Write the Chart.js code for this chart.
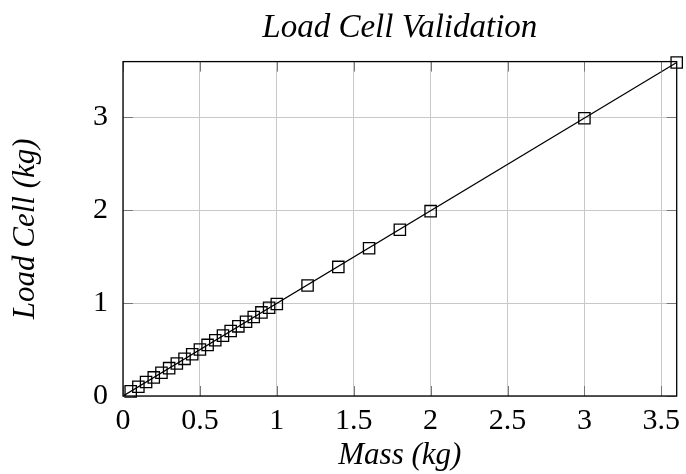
<!DOCTYPE html>
<html lang="en">
<head>
    <meta charset="UTF-8">
    <title>Load Cell Validation</title>
    <style>
        html, body { margin: 0; padding: 0; background: white; }
    </style>
</head>
<body>
    <canvas id="myChart" width="686" height="474"></canvas>

    <script src="https://cdn.jsdelivr.net/npm/chart.js"></script>
    <script>
        // measured points
        var massKg = [0.05, 0.10, 0.15, 0.20, 0.25, 0.30, 0.35, 0.40, 0.45, 0.50,
                      0.55, 0.60, 0.65, 0.70, 0.75, 0.80, 0.85, 0.90, 0.95, 1.00,
                      1.20, 1.40, 1.60, 1.80, 2.00, 3.00, 3.60]
        var cellKg = [0.05, 0.10, 0.15, 0.20, 0.25, 0.30, 0.35, 0.40, 0.45, 0.50,
                      0.55, 0.60, 0.65, 0.70, 0.75, 0.80, 0.85, 0.90, 0.95, 0.99,
                      1.19, 1.39, 1.59, 1.79, 1.99, 2.99, 3.59]
        // fitted line
        var fitX = [0, 3.6]
        var fitY = [0, 3.59]

        var xTicks = [0, 0.5, 1, 1.5, 2, 2.5, 3, 3.5]
        var yTicks = [0, 1, 2, 3]

        var serif = 'Liberation Serif'

        var pts = massKg.map((m, i) => ({ x: m, y: cellKg[i] }))
        var fit = fitX.map((m, i) => ({ x: m, y: fitY[i] }))

        // box round the plot area + short inward ticks, title centred over the plot
        const frame = {
            id: 'frame',
            afterLayout(chart) {
                if (chart.titleBlock) {
                    chart.titleBlock.left = chart.chartArea.left
                    chart.titleBlock.right = chart.chartArea.right
                }
            },
            afterDatasetsDraw(chart) {
                const a = chart.chartArea
                const c = chart.ctx
                const sx = chart.scales.x, sy = chart.scales.y
                c.save()
                c.strokeStyle = '#777'
                c.lineWidth = 1
                c.beginPath()
                sx.ticks.forEach(t => {
                    const px = Math.round(sx.getPixelForValue(t.value)) + 0.5
                    c.moveTo(px, a.bottom); c.lineTo(px, a.bottom - 10)
                    c.moveTo(px, a.top); c.lineTo(px, a.top + 10)
                })
                sy.ticks.forEach(t => {
                    const py = Math.round(sy.getPixelForValue(t.value)) + 0.5
                    c.moveTo(a.left, py); c.lineTo(a.left + 10, py)
                    c.moveTo(a.right, py); c.lineTo(a.right - 10, py)
                })
                c.stroke()
                c.strokeStyle = '#000'
                c.lineWidth = 1.3
                c.strokeRect(a.left, a.top, a.right - a.left, a.bottom - a.top)
                c.restore()
            }
        }

        var ctx = document.getElementById('myChart')
        var myChart = new Chart(ctx, {
            type: 'scatter',
            data: {
                datasets: [{
                    label: 'fit',
                    data: fit,
                    showLine: true,
                    borderColor: '#000',
                    borderWidth: 1.3,
                    pointRadius: 0,
                    fill: false
                }, {
                    label: 'Load cell',
                    data: pts,
                    showLine: false,
                    clip: false,
                    pointStyle: 'rect',
                    pointRadius: 8,
                    pointBorderWidth: 1.3,
                    pointBorderColor: '#000',
                    pointBackgroundColor: 'rgba(0,0,0,0)'
                }]
            },
            plugins: [frame],
            options: {
                responsive: false,
                animation: false,
                layout: { padding: { left: 0, right: 2, top: 0, bottom: 0 } },
                plugins: {
                    legend: { display: false },
                    tooltip: { enabled: false },
                    title: {
                        display: true,
                        text: 'Load Cell Validation',
                        color: '#000',
                        font: { family: serif, size: 33, style: 'italic', weight: 'normal', lineHeight: 1.2 },
                        padding: { top: 9, bottom: 13 }
                    }
                },
                scales: {
                    x: {
                        type: 'linear',
                        min: 0,
                        max: 3.6,
                        afterBuildTicks: s => { s.ticks = xTicks.map(v => ({ value: v })) },
                        afterFit: s => { s.height = 78; s.paddingRight = 0; s.paddingLeft = 0 },
                        grid: { color: '#c8c8c8', lineWidth: 1, drawTicks: false },
                        border: { display: false },
                        ticks: {
                            color: '#000',
                            padding: 7,
                            maxRotation: 0,
                            autoSkip: false,
                            font: { family: serif, size: 30 },
                            callback: v => String(v)
                        },
                        title: {
                            display: true,
                            text: 'Mass (kg)',
                            color: '#000',
                            font: { family: serif, size: 31, style: 'italic', lineHeight: 1.2 },
                            padding: { top: 0, bottom: 0 }
                        }
                    },
                    y: {
                        type: 'linear',
                        min: 0,
                        max: 3.6,
                        afterBuildTicks: s => { s.ticks = yTicks.map(v => ({ value: v })) },
                        afterFit: s => { s.width = 123 },
                        grid: { color: '#c8c8c8', lineWidth: 1, drawTicks: false },
                        border: { display: false },
                        ticks: {
                            color: '#000',
                            padding: 15,
                            autoSkip: false,
                            font: { family: serif, size: 30 },
                            callback: v => String(v)
                        },
                        title: {
                            display: true,
                            text: 'Load Cell (kg)',
                            color: '#000',
                            font: { family: serif, size: 31, style: 'italic', lineHeight: 1.2 },
                            padding: { top: 7, bottom: 0 }
                        }
                    }
                }
            }
        })
    </script>
</body>
</html>
